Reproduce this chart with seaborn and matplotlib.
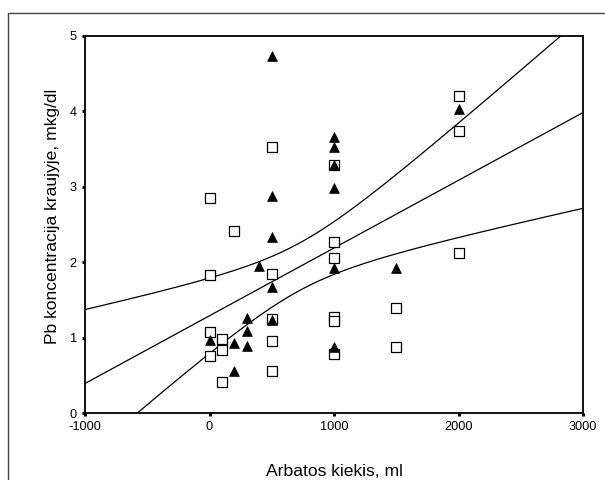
import numpy as np
import pandas as pd
import matplotlib
matplotlib.use("Agg")
import matplotlib.pyplot as plt
import seaborn as sns
from matplotlib.patches import Rectangle

# Open squares (group 1)
sq_x = [0, 0, 0, 0, 100, 100, 100, 200, 500, 500, 500, 500, 500,
        1000, 1000, 1000, 1000, 1000, 1000, 1500, 1500, 2000, 2000, 2000]
sq_y = [2.85, 1.83, 1.08, 0.75, 0.98, 0.835, 0.415, 2.42, 3.53, 1.85, 1.25, 0.95, 0.56,
        3.29, 2.27, 2.05, 1.27, 1.22, 0.78, 1.39, 0.88, 4.20, 3.745, 2.12]

# Filled triangles (group 2)
tr_x = [0, 200, 200, 300, 300, 300, 400, 500, 500, 500, 500, 500,
        1000, 1000, 1000, 1000, 1000, 1000, 1500, 2000]
tr_y = [0.97, 0.925, 0.56, 1.255, 1.09, 0.89, 1.95, 4.73, 2.88, 2.34, 1.675, 1.24,
        3.655, 3.53, 3.29, 2.99, 1.92, 0.87, 1.92, 4.03]

x_ticks = [-1000, 0, 1000, 2000, 3000]
y_ticks = [0, 1, 2, 3, 4, 5]
x_label = "Arbatos kiekis, ml"
y_label = "Pb koncentracija kraujyje, mkg/dl"

sns.set_theme(style="white")
plt.rcParams['font.family'] = ['Liberation Sans', 'DejaVu Sans']

W, H = 605, 480
fig = plt.figure(figsize=(W / 100, H / 100), dpi=100)
L, R, T, B = 85, 583, 36, 413
ax = fig.add_axes([L / W, 1 - B / H, (R - L) / W, (B - T) / H])

# Outer frame
fig.patches.append(Rectangle((8 / W, -0.1), 1.2, (1 - 13 / H) + 0.1,
                             transform=fig.transFigure, fill=False,
                             edgecolor='#444444', linewidth=1.0))

# Linear fit with 95% confidence band for the mean
all_x = np.array(sq_x + tr_x, dtype=float)
all_y = np.array(sq_y + tr_y, dtype=float)
n = len(all_x)
slope, intercept = np.polyfit(all_x, all_y, 1)
resid = all_y - (intercept + slope * all_x)
s = np.sqrt(np.sum(resid ** 2) / (n - 2))
xm = all_x.mean()
sxx = np.sum((all_x - xm) ** 2)
t_crit = 2.018
grid = np.linspace(x_ticks[0], x_ticks[-1], 400)
pred = intercept + slope * grid
se = s * np.sqrt(1 / n + (grid - xm) ** 2 / sxx)
fit = pd.DataFrame({'x': grid, 'fit': pred, 'upper': pred + t_crit * se, 'lower': pred - t_crit * se})

for col in ['fit', 'upper', 'lower']:
    sns.lineplot(data=fit, x='x', y=col, color='black', linewidth=0.9, ax=ax, zorder=2)

sns.scatterplot(x=sq_x, y=sq_y, marker='s', s=42, facecolor='white',
                edgecolor='black', linewidth=0.9, ax=ax, zorder=3)
sns.scatterplot(x=tr_x, y=tr_y, marker='^', s=50, color='black',
                edgecolor='black', linewidth=0.5, ax=ax, zorder=4)

ax.set_xlim(x_ticks[0], x_ticks[-1])
ax.set_ylim(y_ticks[0], y_ticks[-1])
ax.set_xticks(x_ticks)
ax.set_yticks(y_ticks)
ax.set_xticklabels([str(v) for v in x_ticks])
ax.set_yticklabels([str(v) for v in y_ticks])
ax.tick_params(direction='out', length=2, width=2.2, colors='black',
               labelsize=9.2, pad=4, left=True, bottom=True)
for sp in ax.spines.values():
    sp.set_visible(True)
    sp.set_color('black')
    sp.set_linewidth(1.3)

ax.set_xlabel(x_label, fontsize=12.6, color='black', va='baseline')
ax.set_ylabel(y_label, fontsize=12.6, color='black', va='baseline')
ax.xaxis.set_label_coords(0.5, -(476 - B) / (B - T))
ax.yaxis.set_label_coords(-(L - 57) / (R - L), (B - 216) / (B - T))

fig.savefig("out.png", dpi=100)
